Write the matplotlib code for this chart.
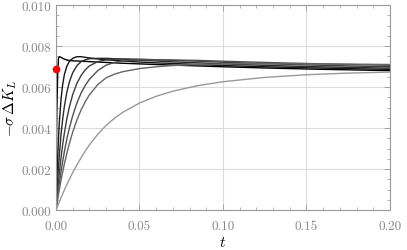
import matplotlib
matplotlib.use("Agg")
import matplotlib.pyplot as plt
from matplotlib.ticker import MultipleLocator

plt.rcParams["mathtext.fontset"] = "cm"
plt.rcParams["font.family"] = ["cmr10", "DejaVu Serif"]
plt.rcParams["axes.formatter.use_mathtext"] = True

# sample times
t = [0, 0.00025, 0.0005, 0.001, 0.0015, 0.002, 0.003, 0.004, 0.005, 0.0065,
     0.008, 0.01, 0.0125, 0.015, 0.0175, 0.02, 0.025, 0.03, 0.035, 0.04,
     0.05, 0.06, 0.07, 0.085, 0.1, 0.125, 0.15, 0.175, 0.2]

# curves, fastest (black) to slowest (light gray)
k1 = [0, 0.0030, 0.0048, 0.0066, 0.00742, 0.00748, 0.00745, 0.0074, 0.00736, 0.00732,
      0.0073, 0.00728, 0.00727, 0.00726, 0.00725, 0.00724, 0.00722, 0.0072, 0.00718, 0.00716,
      0.00713, 0.0071, 0.00707, 0.00703, 0.00699, 0.00693, 0.00688, 0.00684, 0.0068]
k2 = [0, 0.00075, 0.00143, 0.0026, 0.00353, 0.00428, 0.0054, 0.00612, 0.0066, 0.00702,
      0.00725, 0.0074, 0.00748, 0.00748, 0.00745, 0.00742, 0.00737, 0.00733, 0.0073, 0.00727,
      0.00722, 0.00718, 0.00715, 0.0071, 0.00705, 0.00699, 0.00694, 0.0069, 0.00686]
k3 = [0, 0.00041, 0.0008, 0.0015, 0.00214, 0.0027, 0.00368, 0.00444, 0.00505, 0.00575,
      0.00625, 0.0067, 0.00704, 0.00724, 0.00733, 0.00738, 0.0074, 0.0074, 0.00738, 0.00736,
      0.00731, 0.00727, 0.00723, 0.00718, 0.00713, 0.00706, 0.007, 0.00696, 0.00692]
k4 = [0, 0.00026, 0.0005, 0.00097, 0.00141, 0.00182, 0.00256, 0.0032, 0.00375, 0.00446,
      0.00503, 0.00563, 0.00618, 0.00656, 0.00684, 0.00703, 0.00724, 0.00733, 0.00736, 0.00737,
      0.00736, 0.00733, 0.0073, 0.00726, 0.00721, 0.00714, 0.00708, 0.00703, 0.00699]
k5 = [0, 0.00018, 0.00035, 0.00068, 0.001, 0.0013, 0.00187, 0.00238, 0.00284, 0.00347,
      0.004, 0.0046, 0.00522, 0.0057, 0.00608, 0.00638, 0.0068, 0.00707, 0.0072, 0.00727,
      0.00732, 0.00733, 0.00732, 0.0073, 0.00726, 0.0072, 0.00715, 0.0071, 0.00706]
k6 = [0, 0.00013, 0.00026, 0.00052, 0.00076, 0.001, 0.00145, 0.00186, 0.00225, 0.00277,
      0.00325, 0.0038, 0.00439, 0.00488, 0.00528, 0.00562, 0.00612, 0.00645, 0.00663, 0.00675,
      0.0069, 0.00699, 0.00705, 0.0071, 0.00713, 0.00714, 0.00713, 0.00712, 0.0071]
k7 = [0, 0.00005, 0.0001, 0.0002, 0.0003, 0.0004, 0.0006, 0.00079, 0.00098, 0.00125,
      0.0015, 0.00183, 0.0022, 0.00255, 0.00288, 0.00318, 0.0037, 0.00413, 0.00448, 0.00477,
      0.00522, 0.00555, 0.0058, 0.00607, 0.00626, 0.00647, 0.0066, 0.00668, 0.00673]
curves = [k1, k2, k3, k4, k5, k6, k7]
colors = ["#000000", "#151515", "#2a2a2a", "#3c3c3c", "#505050", "#666666", "#999999"]

point = (0.0, 0.0069)

xticks = [0.00, 0.05, 0.10, 0.15, 0.20]
xlabels = ["0.00", "0.05", "0.10", "0.15", "0.20"]
yticks = [0.000, 0.002, 0.004, 0.006, 0.008, 0.010]
ylabels = ["0.000", "0.002", "0.004", "0.006", "0.008", "0.010"]

fig = plt.figure(figsize=(4.07, 2.51), dpi=100)
ax = fig.add_axes([0.1376, 0.159, 0.8206, 0.817])

for y, c in zip(curves, colors):
    ax.plot(t, y, color=c, lw=1.0)

ax.plot(*point, "o", color="red", ms=4.5, clip_on=False, zorder=5)

ax.set_xlim(0, 0.2)
ax.set_ylim(0, 0.010)
ax.set_xticks(xticks, labels=xlabels)
ax.set_yticks(yticks, labels=ylabels)
ax.xaxis.set_minor_locator(MultipleLocator(0.01))
ax.yaxis.set_minor_locator(MultipleLocator(0.0005))
ax.grid(True, which="major", color="#dcdcdc", lw=0.8)
ax.set_axisbelow(True)

for s in ax.spines.values():
    s.set_color("#999999")
    s.set_linewidth(0.8)
ax.tick_params(which="both", direction="in", top=True, right=True,
               color="#999999", labelcolor="#888888", labelsize=9.5)
ax.tick_params(which="major", length=4, width=0.6)
ax.tick_params(axis="x", which="major", pad=7)
ax.tick_params(which="minor", length=2, width=0.5)

ax.set_xlabel("$t$", fontsize=11, labelpad=2)
ax.set_ylabel(r"$-\sigma\,\Delta K_L$", fontsize=11, labelpad=2)

fig.savefig("out.png", dpi=100)
